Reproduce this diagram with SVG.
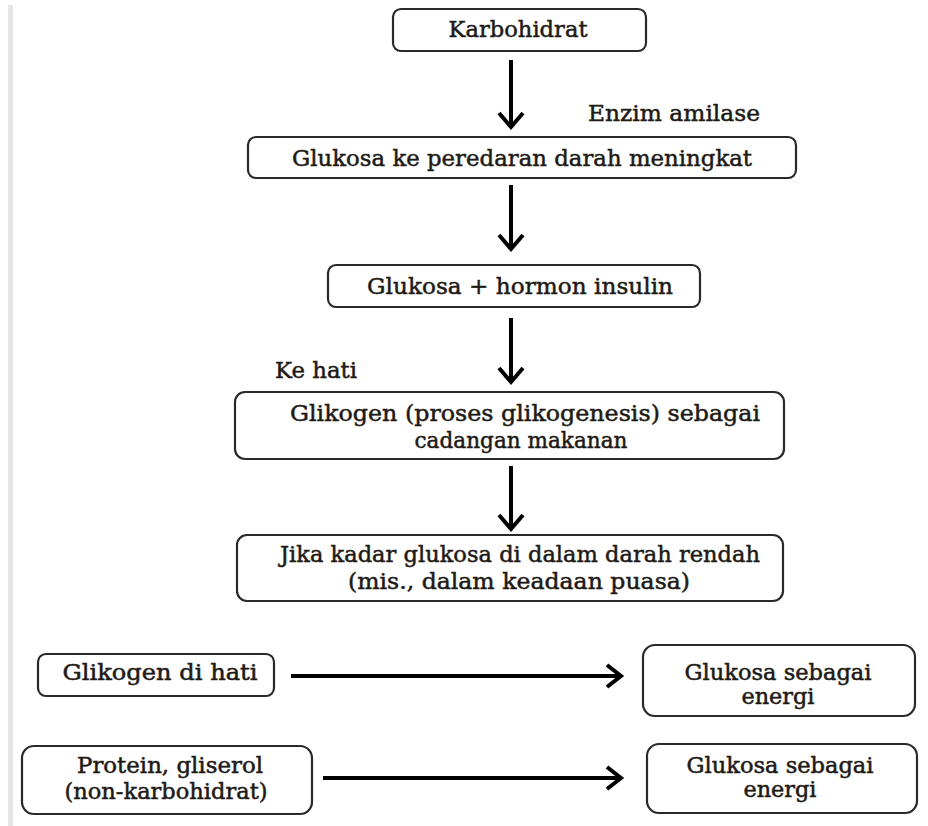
<svg xmlns="http://www.w3.org/2000/svg" width="928" height="826" viewBox="0 0 928 826">
<defs>
<style>
.box{fill:#fff;stroke:#2a2a2a;stroke-width:2.2}
.t{font-family:"DejaVu Serif","Liberation Serif",serif;font-size:23px;fill:#1e1a16;text-anchor:middle;stroke:#1e1a16;stroke-width:0.5}
.s{font-size:21.5px}
.c{stroke:#000;stroke-width:4;fill:none}
.h{stroke:#000;stroke-width:4;fill:none;stroke-linejoin:miter}
</style>
</defs>
<rect x="0" y="0" width="928" height="826" fill="#fff"/>
<rect x="8" y="5" width="5" height="821" fill="#e6e6e9"/>
<g id="connectors">
<line class="c" x1="511" y1="60" x2="511" y2="126"/>
<polyline class="h" points="499,113 511,127 523,113"/>
<line class="c" x1="511" y1="185" x2="511" y2="248"/>
<polyline class="h" points="499,235 511,249 523,235"/>
<line class="c" x1="511" y1="318" x2="511" y2="381"/>
<polyline class="h" points="499,368 511,382 523,368"/>
<line class="c" x1="511" y1="466" x2="511" y2="528"/>
<polyline class="h" points="499,515 511,529 523,515"/>
<line class="c" x1="291" y1="676" x2="620" y2="676"/>
<polyline class="h" points="607,665 621,676 607,687"/>
<line class="c" x1="323" y1="778" x2="620" y2="778"/>
<polyline class="h" points="607,767 621,778 607,789"/>
</g>
<g id="n1"><rect class="box" x="393" y="9" width="253" height="42" rx="8"/><text class="t" x="518" y="37" textLength="139" lengthAdjust="spacingAndGlyphs">Karbohidrat</text></g>
<text class="t" x="674" y="121" textLength="172" lengthAdjust="spacingAndGlyphs">Enzim amilase</text>
<g id="n2"><rect class="box" x="248" y="137" width="548" height="41" rx="8"/><text class="t" x="522" y="166" textLength="460" lengthAdjust="spacingAndGlyphs">Glukosa ke peredaran darah meningkat</text></g>
<g id="n3"><rect class="box" x="328" y="265" width="372" height="42" rx="8"/><text class="t" x="520" y="294" textLength="306" lengthAdjust="spacingAndGlyphs">Glukosa + hormon insulin</text></g>
<text class="t" x="316" y="378" textLength="82" lengthAdjust="spacingAndGlyphs">Ke hati</text>
<g id="n4"><rect class="box" x="235" y="392" width="549" height="67" rx="10"/><text class="t" x="525" y="421" textLength="470" lengthAdjust="spacingAndGlyphs">Glikogen (proses glikogenesis) sebagai</text><text class="t" x="521" y="448" textLength="213" lengthAdjust="spacingAndGlyphs">cadangan makanan</text></g>
<g id="n5"><rect class="box" x="237" y="535" width="546" height="66" rx="10"/><text class="t" x="520" y="562" textLength="480" lengthAdjust="spacingAndGlyphs">Jika kadar glukosa di dalam darah rendah</text><text class="t" x="519" y="589" textLength="342" lengthAdjust="spacingAndGlyphs">(mis., dalam keadaan puasa)</text></g>
<g id="n6"><rect class="box" x="38" y="654" width="236" height="42" rx="8"/><text class="t s" x="160" y="680" textLength="195" lengthAdjust="spacingAndGlyphs">Glikogen di hati</text></g>
<g id="n7"><rect class="box" x="643" y="645" width="272" height="71" rx="12"/><text class="t s" x="778" y="680" textLength="187" lengthAdjust="spacingAndGlyphs">Glukosa sebagai</text><text class="t s" x="778" y="704" textLength="73" lengthAdjust="spacingAndGlyphs">energi</text></g>
<g id="n8"><rect class="box" x="22" y="746" width="290" height="68" rx="12"/><text class="t s" x="170" y="773" textLength="186" lengthAdjust="spacingAndGlyphs">Protein, gliserol</text><text class="t s" x="166" y="799" textLength="203" lengthAdjust="spacingAndGlyphs">(non-karbohidrat)</text></g>
<g id="n9"><rect class="box" x="647" y="744" width="270" height="69" rx="12"/><text class="t s" x="780" y="773" textLength="187" lengthAdjust="spacingAndGlyphs">Glukosa sebagai</text><text class="t s" x="780" y="797" textLength="73" lengthAdjust="spacingAndGlyphs">energi</text></g>
</svg>
